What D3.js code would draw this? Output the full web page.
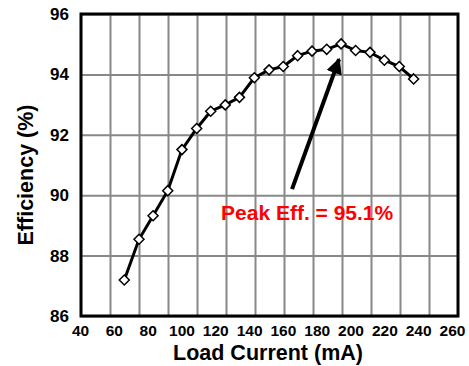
<!DOCTYPE html>
<html>
<head>
<meta charset="utf-8">
<script src="https://cdn.jsdelivr.net/npm/d3@7"></script>
<style>
	body { margin: 0; background: #fff; }
	svg { display: block; font-family: "Liberation Sans", Arial, sans-serif; font-weight: bold; }
</style>
</head>
<body>
<svg id="chart" width="469" height="366"></svg>
<script>
// load current (mA) vs efficiency (%)
var loadCurrent = [66.2, 74.9, 83.2, 91.9, 100.3, 109.0, 117.3, 125.9, 134.3, 143.1, 151.8, 160.2, 168.7, 177.2, 185.9, 194.4, 203.0, 211.5, 220.0, 228.8, 237.3];
var efficiency = [87.19, 88.54, 89.32, 90.15, 91.51, 92.21, 92.78, 92.99, 93.24, 93.89, 94.15, 94.26, 94.62, 94.77, 94.83, 95.01, 94.79, 94.73, 94.47, 94.26, 93.85];
var xTicks = [40, 60, 80, 100, 120, 140, 160, 180, 200, 220, 240, 260];
var yTicks = [86, 88, 90, 92, 94, 96];
var peakLabel = "Peak Eff. = 95.1%";
var arrowFrom = [165.4, 90.2];
var arrowTo = [193.2, 94.5];
var labelAt = [123.4, 89.18];

var margin = { top: 14, right: 11, bottom: 50, left: 81 };
var width = 469 - margin.left - margin.right;
var height = 366 - margin.top - margin.bottom;
var xGridSteps = 13; // vertical grid is finer than the labelled ticks

var svg = d3.select("#chart");
var g = svg.append("g").attr("transform", "translate(" + margin.left + "," + margin.top + ")");

var x = d3.scaleLinear().domain([40, 260]).range([-1, width - 6]);
var y = d3.scaleLinear().domain([86, 96]).range([height, 0]);
var gx = d3.scaleLinear().domain([0, xGridSteps]).range([0, width]);

svg.append("defs").append("marker")
	.attr("id", "head")
	.attr("viewBox", "0 0 10 10")
	.attr("refX", 9).attr("refY", 5)
	.attr("markerWidth", 4).attr("markerHeight", 4.4)
	.attr("markerUnits", "strokeWidth")
	.attr("orient", "auto")
	.append("path").attr("d", "M0,0 L10,5 L0,10 Z").attr("fill", "#000");

// grid
g.append("g")
	.attr("transform", "translate(0," + height + ")")
	.call(d3.axisBottom(gx).tickValues(d3.range(1, xGridSteps)).tickSize(-height).tickFormat(""))
	.call(function(s) { s.select(".domain").remove(); })
	.selectAll("line").attr("stroke", "#888").attr("stroke-width", 2);
g.append("g")
	.call(d3.axisLeft(y).tickValues(yTicks).tickSize(-width).tickFormat(""))
	.call(function(s) { s.select(".domain").remove(); })
	.selectAll("line").attr("stroke", "#888").attr("stroke-width", 2);

// frame
g.append("rect")
	.attr("width", width).attr("height", height)
	.attr("fill", "none").attr("stroke", "#000").attr("stroke-width", 3);

// tick labels
var xAxis = g.append("g")
	.attr("transform", "translate(0," + height + ")")
	.call(d3.axisBottom(x).tickValues(xTicks).tickSize(0).tickPadding(9));
xAxis.select(".domain").remove();
xAxis.selectAll("text").attr("font-size", 15.5).attr("font-family", null).attr("fill", "#000");

var yAxis = g.append("g")
	.call(d3.axisLeft(y).tickValues(yTicks).tickSize(0).tickPadding(12));
yAxis.select(".domain").remove();
yAxis.selectAll("text").attr("font-size", 17).attr("font-family", null).attr("fill", "#000");

// axis titles
svg.append("text")
	.attr("x", 268).attr("y", 360)
	.attr("text-anchor", "middle")
	.attr("font-size", 21.5)
	.text("Load Current (mA)");
svg.append("text")
	.attr("transform", "translate(33,175) rotate(-90)")
	.attr("text-anchor", "middle")
	.attr("font-size", 21.5)
	.text("Efficiency (%)");

// data
var pts = loadCurrent.map(function(d, i) { return [d, efficiency[i]]; });
g.append("path")
	.datum(pts)
	.attr("fill", "none").attr("stroke", "#000").attr("stroke-width", 3)
	.attr("d", d3.line().x(function(d) { return x(d[0]); }).y(function(d) { return y(d[1]); }));
g.selectAll(".pt")
	.data(pts).enter().append("path")
	.attr("class", "pt")
	.attr("transform", function(d) { return "translate(" + x(d[0]) + "," + y(d[1]) + ")"; })
	.attr("d", "M0,-5 L5,0 L0,5 L-5,0 Z")
	.attr("fill", "#fff").attr("stroke", "#000").attr("stroke-width", 1.5);

// annotation
g.append("line")
	.attr("x1", x(arrowFrom[0])).attr("y1", y(arrowFrom[1]))
	.attr("x2", x(arrowTo[0])).attr("y2", y(arrowTo[1]))
	.attr("stroke", "#000").attr("stroke-width", 4)
	.attr("marker-end", "url(#head)");
g.append("text")
	.attr("x", x(labelAt[0])).attr("y", y(labelAt[1]))
	.attr("font-size", 21).attr("fill", "#ff0000")
	.text(peakLabel);
</script>
</body>
</html>
